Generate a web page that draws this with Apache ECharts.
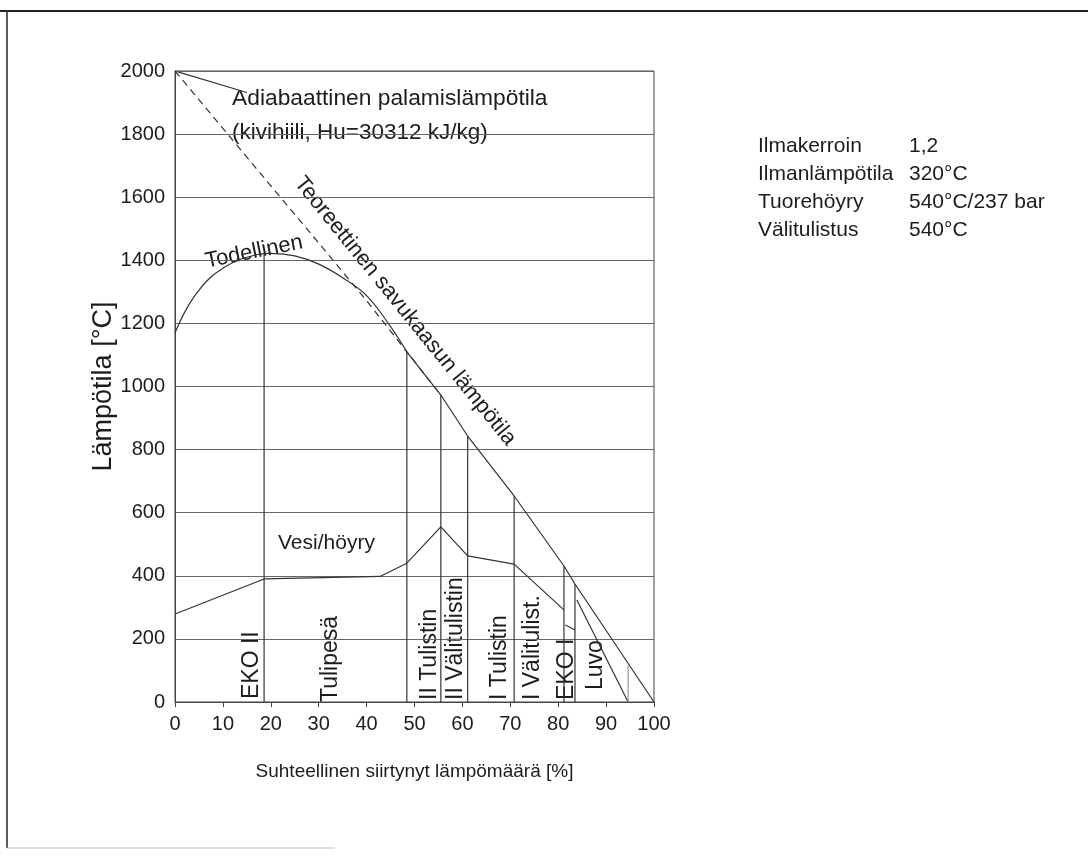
<!DOCTYPE html>
<html><head><meta charset="utf-8">
<script src="https://cdn.jsdelivr.net/npm/echarts/dist/echarts.min.js"></script>
<style>html,body{margin:0;padding:0;background:#fff}#c{width:1088px;height:857px}</style>
</head><body><div id="c"></div>
<script>
// ---- data ----
const theoretical = [[0,2000],[10,1818],[20,1636],[30,1455],[40,1272],[48.4,1110],[55.5,973]];
const actualCurve = [[0,1170],[2,1235],[4,1285],[7,1340],[10,1375],[14,1405],[20,1422],[25,1414],[30,1388],[35,1345],[40,1288],[45,1190],[48.4,1110]];
const flueGas = [[48.4,1110],[55.5,973],[61.1,843],[70.8,653],[81.2,431],[83.5,374],[100,0]];
const waterSteam = [[0,279],[18.6,390],[42.8,398],[48.4,440],[55.5,555],[61.1,463],[70.8,437],[81.2,292]];
const ekoIWater = [[81.5,244],[83.5,228]];
const airLine = [[83.9,323],[94.6,0]];
const leader = [[0.6,1997],[15,1932]];
const boundaryX = [18.6,48.4,55.5,61.1,70.8,81.2,83.5,94.6];
const boundaryTop = [1422,1110,973,843,653,431,374,115];
const sectionLabels = ['EKO II','Tulipesä','II Tulistin','II Välitulistin','I Tulistin','I Välitulist.','EKO I','Luvo'];
const paramNames = ['Ilmakerroin','Ilmanlämpötila','Tuorehöyry','Välitulistus'];
const paramValues = ['1,2','320°C','540°C/237 bar','540°C'];

// ---- layout ----
const F = "'Liberation Sans', Arial, Helvetica, sans-serif";
const INK = '#1c1c1c';
const LINE = '#333';
const sectionLabelX = [252,331,430,456,500,533,567,596];
const sectionLabelBottom = [699,702,700,700,700,700,700,690];

const chart = echarts.init(document.getElementById('c'));

function lineSeries(data, opts) {
  return Object.assign({
    type:'line', data, symbol:'none', silent:true, animation:false,
    lineStyle:{color:LINE, width:1.2}
  }, opts || {});
}
const series = [
  lineSeries(theoretical, {lineStyle:{color:LINE, width:1.2, type:[7,5]}}),
  lineSeries(actualCurve, {smooth:0.4}),
  lineSeries(flueGas),
  lineSeries(waterSteam),
  lineSeries(ekoIWater),
  lineSeries(airLine),
  lineSeries(leader)
];
boundaryX.forEach((x,i)=>{
  series.push(lineSeries([[x,0],[x,boundaryTop[i]]], {lineStyle:{color: i===boundaryX.length-1 ? '#999' : LINE, width:1.2}}));
});

function txt(x,y,text,size,align,valign,rot){
  return {type:'text', x, y, rotation: rot||0, silent:true,
    style:{text, fontSize:size, fontFamily:F, fill:INK,
      textAlign:align||'left', align:align||'left',
      textVerticalAlign:valign||'middle', verticalAlign:valign||'middle'}};
}
const graphics = [
  {type:'line', shape:{x1:0,y1:11,x2:1088,y2:11}, style:{stroke:'#222', lineWidth:2.2}, silent:true},
  {type:'line', shape:{x1:7,y1:11,x2:7,y2:848}, style:{stroke:'#333', lineWidth:1.6}, silent:true},
  {type:'line', shape:{x1:7,y1:848,x2:335,y2:848}, style:{stroke:'#bbb', lineWidth:1}, silent:true},
  txt(232,99,'Adiabaattinen palamislämpötila',22.8),
  txt(232,133,'(kivihiili, Hu=30312 kJ/kg)',22.5),
  txt(405,311,'Teoreettinen savukaasun lämpötila',22,'center','middle',-51*Math.PI/180),
  txt(254,252,'Todellinen',22,'center','middle',0.2),
  txt(278,543,'Vesi/höyry',21)
];
sectionLabels.forEach((s,i)=>{
  graphics.push(txt(sectionLabelX[i], sectionLabelBottom[i], s, 23, 'left','middle', Math.PI/2));
});
paramNames.forEach((s,i)=>{
  graphics.push(txt(758, 146+i*28, s, 21));
  graphics.push(txt(909, 146+i*28, paramValues[i], 21));
});

chart.setOption({
  backgroundColor:'#fff',
  animation:false,
  grid:{left:175, right:434, top:71, bottom:155, show:true, borderColor:'#444', borderWidth:1, backgroundColor:'transparent'},
  xAxis:{type:'value', min:0, max:100, interval:10,
    name:'Suhteellinen siirtynyt lämpömäärä [%]', nameLocation:'middle', nameGap:60,
    nameTextStyle:{fontSize:19, fontFamily:F, color:INK},
    axisLine:{show:true, lineStyle:{color:'#444', width:1}},
    axisTick:{show:true, length:5, lineStyle:{color:'#444'}},
    axisLabel:{fontSize:20, fontFamily:F, color:INK, margin:12, formatter:v=>String(v)},
    splitLine:{show:false}},
  yAxis:{type:'value', min:0, max:2000, interval:200,
    name:'Lämpötila [°C]', nameLocation:'middle', nameGap:54, nameRotate:90,
    nameTextStyle:{fontSize:27, fontFamily:F, color:INK},
    axisLine:{show:true, lineStyle:{color:'#444', width:1}},
    axisTick:{show:false},
    axisLabel:{fontSize:20, fontFamily:F, color:INK, margin:10, formatter:v=>String(v)},
    splitLine:{show:true, lineStyle:{color:'#666', width:1.2}}},
  series,
  graphic:graphics
});
</script></body></html>
